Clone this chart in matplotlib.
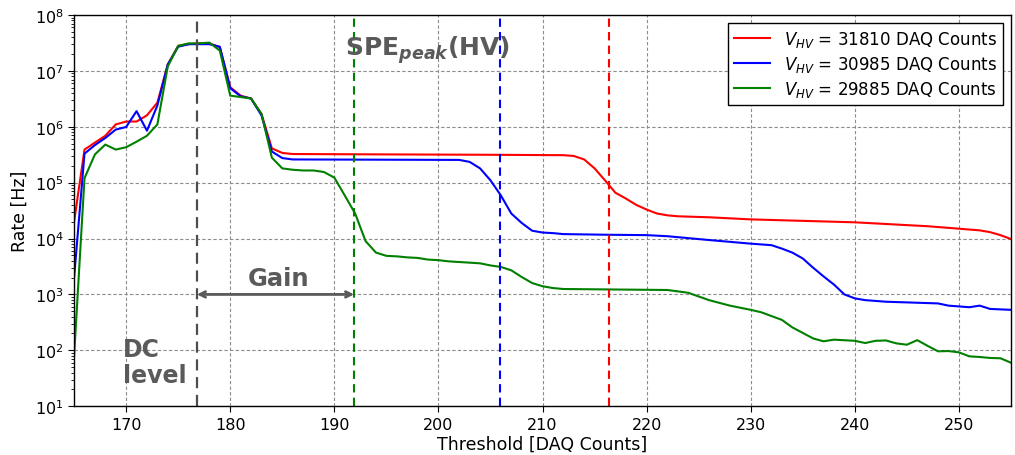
import numpy as np
import matplotlib
matplotlib.use("Agg")
import matplotlib.pyplot as plt

# ---- data ----
threshold = list(range(165, 256))

red_knots_x = [165, 166, 167, 168, 169, 170, 171, 172, 173, 174, 175, 176, 177, 178, 179, 180, 181, 182, 183, 184, 185, 186,
               195, 205, 212, 213, 214, 215, 216, 217, 218, 219, 220, 221, 222, 223, 226, 230, 240, 247, 250, 252, 253, 254, 255]
red_knots_y = [2.0e4, 3.9e5, 5.2e5, 6.9e5, 1.1e6, 1.24e6, 1.24e6, 1.6e6, 2.7e6, 1.3e7, 2.8e7, 3.0e7, 3.1e7, 3.1e7, 2.65e7, 5.1e6, 3.6e6, 3.2e6, 1.7e6, 4.1e5, 3.4e5, 3.25e5,
               3.2e5, 3.15e5, 3.1e5, 3.0e5, 2.6e5, 1.8e5, 1.1e5, 6.6e4, 5.2e4, 4.0e4, 3.3e4, 2.8e4, 2.6e4, 2.5e4, 2.4e4, 2.2e4, 1.95e4, 1.66e4, 1.5e4, 1.4e4, 1.3e4, 1.15e4, 9.8e3]

blue_knots_x = [165, 166, 167, 168, 169, 170, 171, 172, 173, 174, 175, 176, 177, 178, 179, 180, 181, 182, 183, 184, 185, 186,
                202, 203, 204, 205, 206, 207, 208, 209, 210, 211, 212, 216, 220, 222, 226, 230, 232, 233, 234, 235, 236, 237, 238, 239,
                240, 241, 243, 245, 247, 248, 249, 250, 251, 252, 253, 255]
blue_knots_y = [2.0e3, 3.3e5, 4.7e5, 6.3e5, 8.9e5, 9.9e5, 1.9e6, 8.5e5, 2.4e6, 1.3e7, 2.7e7, 3.0e7, 3.0e7, 3.0e7, 2.7e7, 4.9e6, 3.5e6, 3.2e6, 1.6e6, 3.6e5, 2.75e5, 2.6e5,
                2.55e5, 2.35e5, 1.8e5, 1.1e5, 5.9e4, 2.8e4, 1.9e4, 1.38e4, 1.28e4, 1.25e4, 1.2e4, 1.17e4, 1.15e4, 1.1e4, 9.4e3, 8.1e3, 7.6e3, 6.6e3, 5.6e3, 4.4e3, 3.0e3, 2.1e3, 1.5e3, 1.0e3,
                850, 790, 740, 720, 700, 690, 630, 610, 590, 630, 550, 530]

green_knots_x = [165, 166, 167, 168, 169, 170, 171, 172, 173, 174, 175, 176, 177, 178, 179, 180, 181, 182, 183, 184, 185, 186, 187, 188, 189, 190,
                 191, 192, 193, 194, 195, 196, 197, 198, 199, 200, 201, 202, 203, 204, 205, 206, 207, 208, 209, 210, 211, 212, 222, 224, 226, 228,
                 230, 231, 233, 234, 236, 237, 238, 240, 241, 242, 243, 244, 245, 246, 247, 248, 249, 250, 251, 252, 253, 254, 255]
green_knots_y = [80, 1.2e5, 3.2e5, 4.8e5, 3.9e5, 4.3e5, 5.4e5, 6.9e5, 1.1e6, 1.2e7, 2.8e7, 3.1e7, 3.1e7, 3.2e7, 2.3e7, 3.6e6, 3.4e6, 3.2e6, 1.7e6, 2.8e5, 1.8e5, 1.7e5, 1.65e5, 1.65e5, 1.55e5, 1.23e5,
                 5.9e4, 2.8e4, 9.0e3, 5.6e3, 4.9e3, 4.8e3, 4.6e3, 4.5e3, 4.2e3, 4.1e3, 3.9e3, 3.8e3, 3.7e3, 3.6e3, 3.3e3, 3.1e3, 2.7e3, 2.05e3, 1.6e3, 1.4e3, 1.3e3, 1.25e3, 1.2e3, 1.07e3, 790, 630,
                 530, 480, 350, 257, 163, 145, 155, 148, 135, 148, 150, 133, 126, 152, 120, 96, 97, 92, 78, 76, 73, 72, 60]

labels = [r"$V_{HV}$ = 31810 DAQ Counts", r"$V_{HV}$ = 30985 DAQ Counts", r"$V_{HV}$ = 29885 DAQ Counts"]
colors = ["red", "blue", "green"]

spe_peaks = [216.4, 205.9, 191.9]
dc_level = 176.8


def on_grid(kx, ky):
    return np.exp(np.interp(threshold, kx, np.log(ky)))


red = on_grid(red_knots_x, red_knots_y)
blue = on_grid(blue_knots_x, blue_knots_y)
green = on_grid(green_knots_x, green_knots_y)

# ---- plot ----
plt.rcParams['font.family'] = ['DejaVu Sans']
fig = plt.figure(figsize=(10.15, 4.56), dpi=100)
ax = fig.add_axes([0.073, 0.107, 0.923, 0.858])

for series, c, lab in zip([red, blue, green], colors, labels):
    ax.plot(threshold, series, color=c, lw=1.5, label=lab)

ax.set_yscale('log')
ax.set_xlim(165, 255)
ax.set_ylim(10, 1e8)

ax.axvline(dc_level, color='0.3', ls=(0, (5, 3)), lw=1.6)
for xp, c in zip(spe_peaks, colors):
    ax.axvline(xp, color=c, ls=(0, (4, 2.5)), lw=1.5)

ax.grid(True, which='major', color='0.55', ls=(0, (3, 2)), lw=0.8)
ax.tick_params(axis='both', which='major', labelsize=11.5, length=4)
ax.tick_params(axis='y', which='minor', length=2)
for s in ax.spines.values():
    s.set_linewidth(1.0)

ax.set_xlabel("Threshold [DAQ Counts]", fontsize=12.5, labelpad=2)
ax.set_ylabel("Rate [Hz]", fontsize=12.5, labelpad=4)

leg = ax.legend(loc='upper right', fontsize=12, fancybox=False, edgecolor='black',
                framealpha=1, borderpad=0.35, labelspacing=0.3, handlelength=2.2,
                bbox_to_anchor=(1.0, 1.0), borderaxespad=0.5)
leg.get_frame().set_linewidth(1.0)

gray = '#5a5a5a'
ax.annotate('', xy=(dc_level, 1e3), xytext=(spe_peaks[2], 1e3),
            arrowprops=dict(arrowstyle='<->', color=gray, lw=2, shrinkA=0, shrinkB=0))
ax.text((dc_level + spe_peaks[2]) / 2 + 0.3, 1.2e3, "Gain", fontsize=17.5, fontweight='bold',
        color=gray, ha='center', va='bottom')
ax.text(169.7, 22, "DC\nlevel", fontsize=17, fontweight='bold', color=gray,
        ha='left', va='bottom', linespacing=1.1)
ax.text(191.0, 1.27e7, r"SPE$_{\mathbfit{peak}}$(HV)", fontsize=18, fontweight='bold',
        color=gray, ha='left', va='bottom')

fig.savefig("out.png", dpi=100)
